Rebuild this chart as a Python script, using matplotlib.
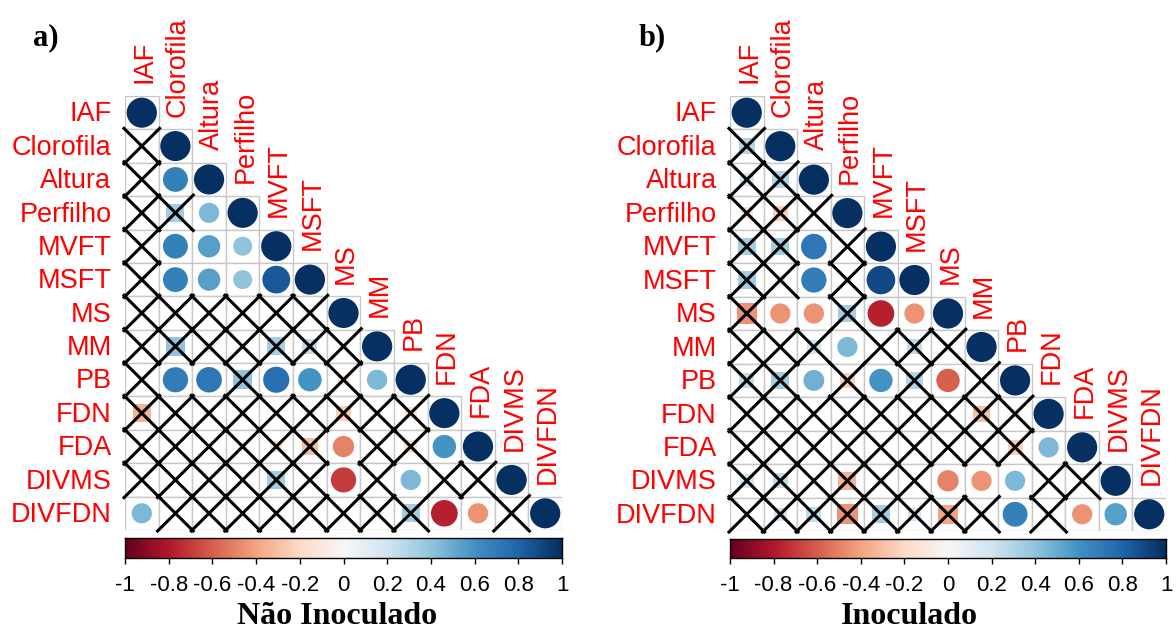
import numpy as np
import matplotlib
matplotlib.use("Agg")
import matplotlib.pyplot as plt
from matplotlib.patches import Circle, Rectangle

# ── Variables ─────────────────────────────────
names = ["IAF", "Clorofila", "Altura", "Perfilho", "MVFT", "MSFT", "MS",
         "MM", "PB", "FDN", "FDA", "DIVMS", "DIVFDN"]

# lower triangle (row i, columns 0..i-1), diagonal = 1
# flags: "1" significant (circle), "0" not significant (crossed)
nao_inoc = [
    [0.0],
    [0.02, 0.68],
    [0.08, 0.35, 0.45],
    [0.03, 0.68, 0.55, 0.40],
    [-0.10, 0.68, 0.55, 0.40, 0.85],
    [0.0, -0.12, 0.0, -0.05, -0.08, 0.06],
    [0.0, 0.40, 0.15, 0.0, 0.35, 0.25, -0.10],
    [0.05, 0.70, 0.72, 0.40, 0.75, 0.60, -0.12, 0.45],
    [-0.35, 0.0, -0.10, -0.10, -0.05, -0.08, -0.25, 0.0, -0.15],
    [-0.05, 0.0, 0.0, -0.08, -0.15, -0.30, -0.50, 0.0, -0.18, 0.60],
    [0.0, 0.05, 0.0, 0.0, 0.35, 0.0, -0.70, 0.0, 0.45, 0.0, 0.0],
    [0.45, 0.0, 0.0, 0.0, 0.0, 0.0, 0.0, 0.10, 0.35, -0.78, -0.45, 0.10],
]
nao_inoc_sig = ["0", "01", "001", "0111", "01111", "000000", "0000000",
                "01101101", "000000000", "0000001001", "00000010100",
                "100000000110"]

inoc = [
    [0.30],
    [0.20, 0.30],
    [-0.15, -0.25, 0.0],
    [0.35, 0.35, 0.72, 0.0],
    [0.35, 0.10, 0.70, 0.10, 0.90],
    [-0.45, -0.45, -0.45, 0.35, -0.78, -0.45],
    [0.0, 0.0, 0.20, 0.45, 0.0, 0.25, 0.10],
    [0.25, 0.35, 0.48, -0.25, 0.60, 0.30, -0.60, 0.0],
    [-0.05, -0.10, 0.0, -0.05, 0.0, 0.0, -0.05, -0.30, -0.10],
    [-0.05, 0.0, 0.0, -0.05, 0.0, -0.05, 0.0, 0.0, -0.25, 0.45],
    [0.20, 0.25, 0.0, -0.35, 0.10, 0.0, -0.50, -0.45, 0.45, 0.0, 0.0],
    [0.0, 0.20, 0.25, -0.45, 0.35, 0.20, -0.40, -0.10, 0.68, -0.10, -0.45, 0.55],
]
inoc_sig = ["0", "00", "000", "0010", "00101", "011011", "0001000",
            "00101010", "000000000", "0000000001", "00000011100",
            "000000001011"]

cbar_ticks = [-1, -0.8, -0.6, -0.4, -0.2, 0, 0.2, 0.4, 0.6, 0.8, 1]

W, H = 1176, 630
cmap = plt.get_cmap("RdBu")
LAB = "Liberation Sans"
SERIF = "Liberation Serif"


def fbox(x0, y0, x1, y1):
    """pixel box (top-left origin) -> figure fraction rect"""
    return [x0 / W, 1 - y1 / H, (x1 - x0) / W, (y1 - y0) / H]


def draw_corr(ax, rows, sig):
    n = len(names)
    ax.set_xlim(0, n)
    ax.set_ylim(n, 0)
    ax.axis("off")
    for i in range(n):
        vals = (rows[i - 1] if i > 0 else []) + [1.0]
        flags = (sig[i - 1] if i > 0 else "") + "1"
        for j, (r, f) in enumerate(zip(vals, flags)):
            ax.add_patch(Rectangle((j, i), 1, 1, facecolor="white",
                                   edgecolor="#c8c8c8", lw=1.0, zorder=1))
            cx, cy = j + 0.5, i + 0.5
            rad = 0.45 * np.sqrt(abs(r))
            col = cmap((r + 1) / 2)
            if f == "1":
                ax.add_patch(Circle((cx, cy), rad, facecolor=col,
                                    edgecolor="none", zorder=2))
            else:
                if abs(r) > 0.01:
                    ax.add_patch(Rectangle((cx - rad, cy - rad), 2 * rad, 2 * rad,
                                           facecolor=col, edgecolor="none",
                                           zorder=2))
                h = 0.53
                ax.plot([cx - h, cx + h], [cy - h, cy + h], color="black",
                        lw=2.2, zorder=3, clip_on=False)
                ax.plot([cx - h, cx + h], [cy + h, cy - h], color="black",
                        lw=2.2, zorder=3, clip_on=False)
        ax.text(-0.4, i + 0.55, names[i], ha="right", va="center",
                color="red", fontsize=19.5, family=LAB)
        ax.text(i + 0.58, i - 0.38, names[i], ha="center", va="bottom",
                rotation=90, color="red", fontsize=19.5, family=LAB)


def draw_cbar(cax):
    grad = np.linspace(-1, 1, 400)[None, :]
    cax.imshow(grad, aspect="auto", cmap=cmap, extent=[-1, 1, 0, 1],
               vmin=-1, vmax=1)
    cax.set_xlim(-1, 1)
    cax.set_yticks([])
    cax.set_xticks(cbar_ticks)
    cax.set_xticklabels([f"{t:g}" for t in cbar_ticks], fontsize=16,
                        family=LAB)
    cax.tick_params(axis="x", length=4, width=1, pad=8)
    for s in cax.spines.values():
        s.set_linewidth(1.0)


fig = plt.figure(figsize=(W / 100, H / 100), dpi=100)

ax_a = fig.add_axes(fbox(125, 96, 562, 530))
draw_corr(ax_a, nao_inoc, nao_inoc_sig)
cax_a = fig.add_axes(fbox(125, 538, 562, 558))
draw_cbar(cax_a)

ax_b = fig.add_axes(fbox(730, 96, 1166, 531))
draw_corr(ax_b, inoc, inoc_sig)
cax_b = fig.add_axes(fbox(730, 539, 1166, 558))
draw_cbar(cax_b)

fig.text(46 / W, 1 - 38 / H, "a)", ha="center", va="center", fontsize=22,
         fontweight="bold", family=SERIF)
fig.text(652 / W, 1 - 38 / H, "b)", ha="center", va="center", fontsize=22,
         fontweight="bold", family=SERIF)
fig.text(337 / W, 1 - 616 / H, "Não Inoculado", ha="center", va="center",
         fontsize=23, fontweight="bold", family=SERIF)
fig.text(909 / W, 1 - 616 / H, "Inoculado", ha="center", va="center",
         fontsize=23, fontweight="bold", family=SERIF)

fig.savefig("out.png", dpi=100)
